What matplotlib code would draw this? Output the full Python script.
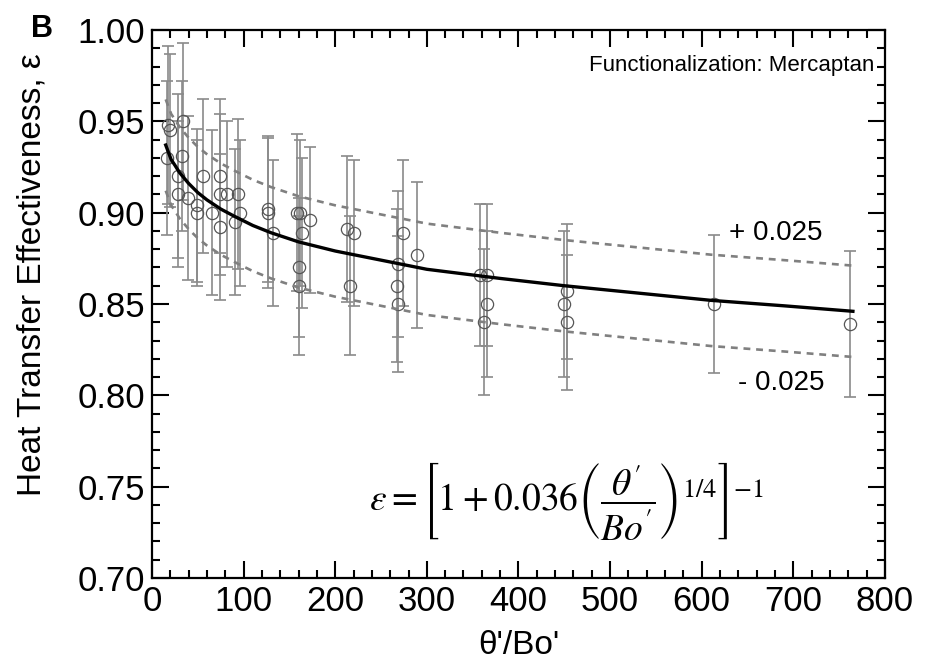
import matplotlib
matplotlib.use("Agg")
import matplotlib.pyplot as plt
import numpy as np
from matplotlib.ticker import MultipleLocator

plt.rcParams["font.family"] = ["Liberation Sans", "DejaVu Sans"]
plt.rcParams["mathtext.fontset"] = "stix"

# measured points: theta'/Bo', effectiveness, uncertainty
x_data = [16.7, 17.8, 19.7, 28.7, 28.7, 32.3, 33.4, 39.6, 48.7, 48.7, 56, 65,
          74, 74, 74, 81.4, 90.5, 94.1, 96, 126.9, 127, 132, 158.2, 161.8,
          163.6, 160, 161, 172, 213, 220.7, 215.6, 273.6, 269, 267.5, 269,
          289, 358, 366, 366, 362, 452.7, 450, 452.7, 613.7, 761.7]
y_data = [0.930, 0.948, 0.945, 0.920, 0.910, 0.931, 0.950, 0.908, 0.904, 0.900,
          0.920, 0.900, 0.920, 0.910, 0.892, 0.910, 0.895, 0.910, 0.900, 0.902,
          0.900, 0.889, 0.900, 0.900, 0.889, 0.870, 0.860, 0.896, 0.891, 0.889,
          0.860, 0.889, 0.872, 0.860, 0.850, 0.877, 0.866, 0.866, 0.850, 0.840,
          0.857, 0.850, 0.840, 0.850, 0.839]
y_err = [0.042, 0.043, 0.042, 0.045, 0.040, 0.041, 0.043, 0.045, 0.042, 0.040,
         0.042, 0.045, 0.042, 0.044, 0.040, 0.040, 0.040, 0.041, 0.040, 0.040,
         0.041, 0.040, 0.043, 0.040, 0.041, 0.038, 0.038, 0.040, 0.040, 0.040,
         0.038, 0.040, 0.040, 0.042, 0.037, 0.040, 0.039, 0.039, 0.040, 0.040,
         0.037, 0.040, 0.037, 0.038, 0.040]

# correlation curve
x_fit = [15, 18, 21, 25, 30, 35, 40, 50, 60, 75, 90, 110, 130, 160, 200, 250,
         300, 380, 450, 530, 610, 690, 765]
y_fit = [0.937, 0.933, 0.929, 0.926, 0.922, 0.919, 0.916, 0.911, 0.907, 0.902,
         0.898, 0.893, 0.889, 0.884, 0.879, 0.874, 0.869, 0.864, 0.860, 0.856,
         0.852, 0.849, 0.846]
band = 0.025

fig = plt.figure(figsize=(9.3, 6.66), dpi=100)
ax = fig.add_axes([0.1634, 0.1321, 0.7882, 0.8229])

ax.errorbar(x_data, y_data, yerr=y_err, fmt="none", ecolor="#8a8a8a",
            elinewidth=1.2, capsize=4, capthick=1.2, zorder=2)
ax.plot(x_data, y_data, "o", mfc="none", mec="#555555", mew=0.9, ms=8.8,
        zorder=3)

yf = np.array(y_fit)
ax.plot(x_fit, yf, color="black", lw=2.4, zorder=4)
ax.plot(x_fit, yf + band, color="#808080", lw=1.9, ls=(0, (2.6, 2.2)), zorder=4)
ax.plot(x_fit, yf - band, color="#808080", lw=1.9, ls=(0, (2.6, 2.2)), zorder=4)

ax.set_xlim(0, 800)
ax.set_ylim(0.70, 1.00)
ax.xaxis.set_major_locator(MultipleLocator(100))
ax.xaxis.set_minor_locator(MultipleLocator(20))
ax.yaxis.set_major_locator(MultipleLocator(0.05))
ax.yaxis.set_minor_locator(MultipleLocator(0.01))
ax.yaxis.set_major_formatter(plt.FormatStrFormatter("%.2f"))
ax.tick_params(which="both", direction="in", top=True, right=True,
               labelsize=25, width=1.5, pad=5)
ax.tick_params(which="major", length=12)
ax.tick_params(which="minor", length=6)
for s in ax.spines.values():
    s.set_linewidth(1.6)

ax.set_xlabel("θ'/Bo'", fontsize=24, labelpad=9)
ax.set_ylabel("Heat Transfer Effectiveness, ε", fontsize=24)
ax.yaxis.set_label_coords(-0.143, 0.553)

ax.text(0.985, 0.935, "Functionalization: Mercaptan", transform=ax.transAxes,
        ha="right", va="center", fontsize=16)
ax.text(630, 0.8887, "+ 0.025", ha="left", va="center", fontsize=20)
ax.text(640, 0.8067, "- 0.025", ha="left", va="center", fontsize=20)
ax.text(453, 0.742,
        r"$\varepsilon = \left[1 + 0.036\left(\dfrac{\theta^{\prime}}{Bo^{\prime}}\right)^{1/4}\right]^{-1}$",
        ha="center", va="center", fontsize=27)

fig.text(0.045, 0.957, "B", fontsize=22, fontweight="bold", ha="center",
         va="center")

fig.savefig("out.png", dpi=100)
